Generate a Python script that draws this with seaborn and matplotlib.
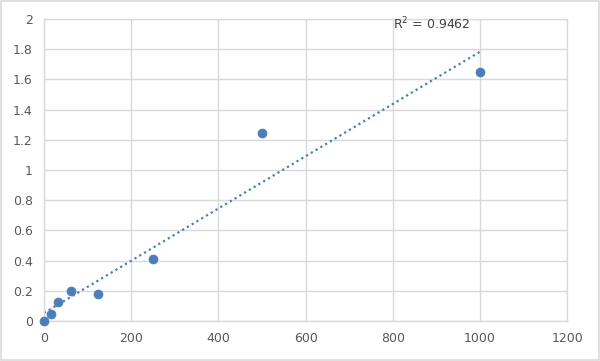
import numpy as np
import pandas as pd
import seaborn as sns
import matplotlib.pyplot as plt

concentration = [0, 15.6, 31.25, 62.5, 125, 250, 500, 1000]
od_value = [0.0, 0.047, 0.126, 0.2, 0.18, 0.41, 1.245, 1.648]
r2_label = "R$^2$ = 0.9462"

df = pd.DataFrame({"conc": concentration, "od": od_value})

sns.set_style("white")
plt.rcParams["font.family"] = ["DejaVu Sans"]

fig = plt.figure(figsize=(6, 3.61), dpi=100)
ax = fig.add_axes([0.0733, 0.111, 0.872, 0.836])

# linear trendline through the data
slope, intercept = np.polyfit(df["conc"], df["od"], 1)
xs = np.array([0, df["conc"].max()])
ax.plot(xs, slope * xs + intercept, linestyle=(0, (1, 1.5)), color="#4a7ebb",
        linewidth=1.6, zorder=2)

sns.scatterplot(data=df, x="conc", y="od", ax=ax, color="#4a7ebb", s=42,
                edgecolor="#4a7ebb", linewidth=0.5, zorder=3, clip_on=False)

ax.text(800, 1.97, r2_label, fontsize=9, color="#404040", va="center", ha="left")

ax.set_xlim(0, 1200)
ax.set_ylim(0, 2)
ax.set_xticks(range(0, 1201, 200))
ax.set_yticks(np.arange(0, 2.01, 0.2))
ax.set_yticklabels(["0", "0.2", "0.4", "0.6", "0.8", "1", "1.2", "1.4", "1.6", "1.8", "2"])
ax.grid(True, color="#d9d9d9", linewidth=1)
ax.set_axisbelow(True)
for s in ax.spines.values():
    s.set_visible(True)
    s.set_color("#d9d9d9")
    s.set_linewidth(1)
ax.tick_params(colors="#595959", labelsize=9, length=0, pad=8)
ax.set_xlabel("")
ax.set_ylabel("")

# outer chart border
fig.patches.append(plt.Rectangle((0.002, 0.003), 0.996, 0.994, transform=fig.transFigure,
                                 fill=False, edgecolor="#d9d9d9", linewidth=1.2))

fig.savefig("out.png", dpi=100)
